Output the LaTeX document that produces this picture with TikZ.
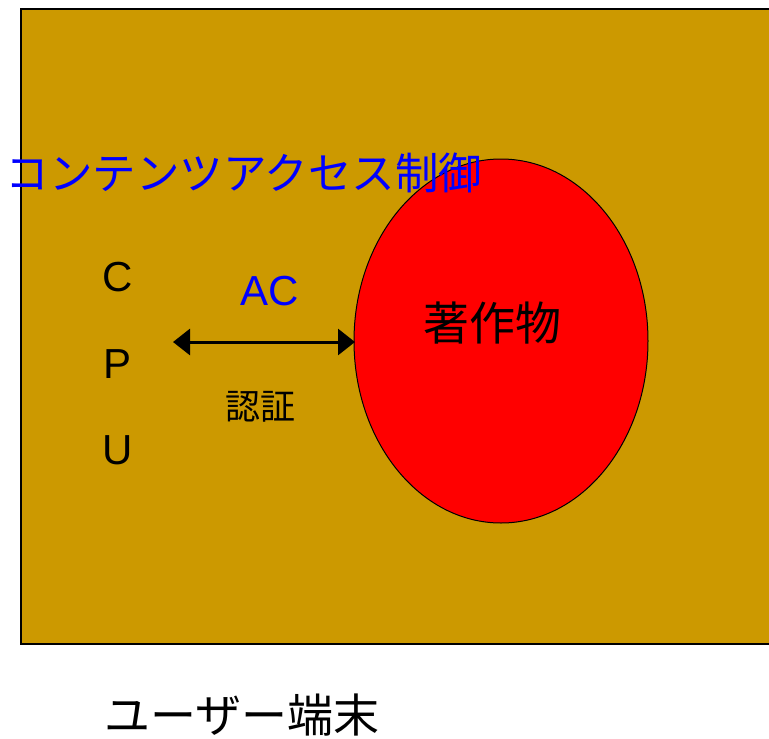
\documentclass[tikz,border=0pt]{standalone}
\usepackage{fontspec}
\setmainfont{Liberation Sans}
\newfontfamily\cjk{Noto Sans CJK JP}
\usetikzlibrary{arrows.meta,shapes.geometric}
\definecolor{gold}{HTML}{CC9900}
\definecolor{txtblue}{HTML}{0000FF}
\tikzset{
  lbl/.style={inner sep=0pt, font=\cjk\fontsize{42}{46}\selectfont},
  latin/.style={inner sep=0pt, font=\fontsize{42}{46}\selectfont},
  conn/.style={line width=3pt, {Triangle[length=17pt,width=26pt]}-{Triangle[length=17pt,width=26pt]}}
}
\begin{document}
\begin{tikzpicture}[x=1pt,y=-1pt]
\useasboundingbox (0,0) rectangle (769,739);
\fill[white] (0,0) rectangle (769,739);
\draw[fill=gold, line width=1.5pt] (21,9) rectangle (790,644);
\node[draw, fill=red, line width=1pt, ellipse, minimum width=294pt, minimum height=364pt, inner sep=0pt] (work) at (501,341) {};
\node[lbl, font=\cjk\fontsize{46}{50}\selectfont] at (492,323) {著作物};
\node[lbl, text=txtblue, font=\cjk\fontsize{43.5}{48}\selectfont] (title) at (244,173) {コンテンツアクセス制御};
\node[latin] (c) at (118,277) {C};
\node[latin] (p) at (118,364) {P};
\node[latin] (u) at (118,450) {U};
\coordinate (cpu) at (173,342);
\coordinate (we) at (355,342);
\draw[conn] (cpu) -- (we);
\node[latin, text=txtblue] (ac) at (270,291) {AC};
\node[lbl, font=\cjk\fontsize{35}{38}\selectfont] (auth) at (260,407) {認証};
\node[lbl, font=\cjk\fontsize{46}{50}\selectfont] (user) at (242,715) {ユーザー端末};
\end{tikzpicture}
\end{document}
